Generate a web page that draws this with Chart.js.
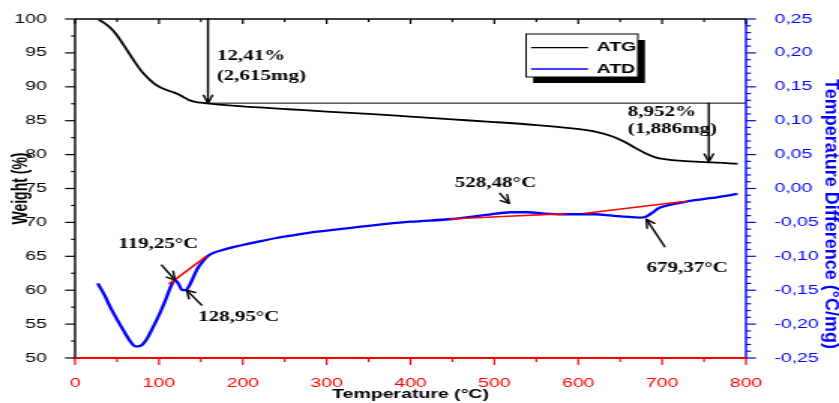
<!DOCTYPE html>
<html><head><meta charset="utf-8">
<script src="https://cdn.jsdelivr.net/npm/chart.js@4/dist/chart.umd.min.js"></script>
<style>html,body{margin:0;padding:0;background:#fff;overflow:hidden}canvas{display:block}</style>
</head><body>
<canvas id="c" width="559" height="403" style="width:839px;height:403px"></canvas>
<script>
// ---------- data ----------
const atgTemp   = [28, 35, 42, 48, 54, 62, 70, 78, 86, 94, 102, 110, 117, 123, 129, 135, 142, 150, 158, 180, 220, 260, 300, 350, 400, 450, 500, 550, 590, 620, 640, 655, 668, 680, 692, 705, 720, 740, 760, 790];
const atgWeight = [99.9, 99.4, 98.7, 97.9, 96.9, 95.4, 93.9, 92.5, 91.4, 90.5, 89.9, 89.5, 89.2, 88.9, 88.5, 88.1, 87.8, 87.65, 87.55, 87.3, 86.95, 86.65, 86.35, 86.0, 85.6, 85.2, 84.8, 84.35, 83.9, 83.4, 82.7, 81.9, 81.0, 80.2, 79.6, 79.3, 79.1, 78.95, 78.85, 78.65];
const atdTemp  = [27, 35, 42, 50, 58, 65, 72, 78, 85, 92, 100, 108, 115, 119, 123, 128, 132, 136, 141, 146, 152, 158, 165, 175, 190, 205, 220, 240, 260, 280, 300, 350, 400, 450, 490, 520, 540, 560, 580, 600, 620, 640, 660, 672, 680, 688, 696, 710, 730, 760, 790];
const atdValue = [-0.140, -0.157, -0.175, -0.193, -0.210, -0.224, -0.233, -0.232, -0.223, -0.207, -0.187, -0.164, -0.142, -0.135, -0.140, -0.150, -0.150, -0.144, -0.131, -0.118, -0.108, -0.100, -0.095, -0.091, -0.086, -0.082, -0.078, -0.073, -0.069, -0.065, -0.062, -0.055, -0.049, -0.045, -0.039, -0.035, -0.035, -0.037, -0.038, -0.038, -0.038, -0.040, -0.042, -0.043, -0.042, -0.036, -0.029, -0.024, -0.019, -0.014, -0.008];
const tangent1Temp = [112, 157],  tangent1Value = [-0.141, -0.0995];
const tangent2Temp = [447, 586],  tangent2Value = [-0.045, -0.037];
const tangent3Temp = [606, 733],  tangent3Value = [-0.037, -0.018];
const seriesLabels = ['ATG', 'ATD'];
const tempTicks   = [0, 100, 200, 300, 400, 500, 600, 700, 800];
const weightTicks = [50, 55, 60, 65, 70, 75, 80, 85, 90, 95, 100];
const dtaTicks    = [-0.25, -0.20, -0.15, -0.10, -0.05, 0, 0.05, 0.10, 0.15, 0.20, 0.25];
const axisTitles  = ['Temperature (°C)', 'Weight (%)', 'Temperature Difference (°C/mg)'];
const lossLabels  = ['12,41%', '(2,615mg)', '8,952%', '(1,886mg)'];
const peakLabels  = ['119,25°C', '128,95°C', '528,48°C', '679,37°C'];
const weightAfterStep1 = 87.59;   // 100 - 12,41
const step1Temp = 158.5, step2Temp = 755.7, weightEnd = 78.95;

// ---------- helpers ----------
const S = 839 / 559; // canvas is displayed stretched horizontally, like the reference
const SANS = "'Liberation Sans', Arial, sans-serif";
const SERIF = "'Liberation Serif', 'Times New Roman', serif";
const pts = (xs, ys) => xs.map((x, i) => ({x, y: ys[i]}));
const fmtComma = v => Math.abs(v) < 1e-9 ? '0,00' : v.toFixed(2).replace('.', ',');

function arrow(ctx, x1, y1, x2, y2) {
  ctx.save();
  ctx.strokeStyle = '#000'; ctx.lineWidth = 1.4; ctx.lineCap = 'round'; ctx.lineJoin = 'round';
  ctx.beginPath(); ctx.moveTo(x1, y1); ctx.lineTo(x2, y2); ctx.stroke();
  const dx = (x2 - x1) * S, dy = y2 - y1, L = Math.hypot(dx, dy), ux = dx / L, uy = dy / L;
  const a = 9, th = 0.52;
  ctx.beginPath();
  for (const sg of [-1, 1]) {
    const c = Math.cos(th), sn = Math.sin(th) * sg;
    const rx = ux * c - uy * sn, ry = ux * sn + uy * c;
    ctx.moveTo(x2 - a * rx / S, y2 - a * ry); ctx.lineTo(x2, y2);
  }
  ctx.stroke(); ctx.restore();
}

const decor = {
  id: 'decor',
  afterDatasetsDraw(chart) {
    const ctx = chart.ctx, x = chart.scales.x, yl = chart.scales.yL, yr = chart.scales.yR;
    const {left, right, top, bottom} = chart.chartArea;
    ctx.save();
    // reference line after first loss
    ctx.strokeStyle = '#000'; ctx.lineWidth = 1;
    ctx.beginPath(); ctx.moveTo(x.getPixelForValue(step1Temp), yl.getPixelForValue(weightAfterStep1));
    ctx.lineTo(right, yl.getPixelForValue(weightAfterStep1)); ctx.stroke();

    // axes lines
    ctx.lineCap = 'butt';
    ctx.strokeStyle = '#000'; ctx.lineWidth = 1.4;
    ctx.beginPath(); ctx.moveTo(left, top); ctx.lineTo(left, bottom); ctx.stroke();
    ctx.lineWidth = 1.3;
    ctx.beginPath(); ctx.moveTo(left, top); ctx.lineTo(right, top); ctx.stroke();
    ctx.strokeStyle = '#0000ff'; ctx.lineWidth = 1.4;
    ctx.beginPath(); ctx.moveTo(right, top); ctx.lineTo(right, bottom + 1); ctx.stroke();
    ctx.strokeStyle = '#ff0000'; ctx.lineWidth = 2;
    ctx.beginPath(); ctx.moveTo(left - 1, bottom); ctx.lineTo(right, bottom); ctx.stroke();

    // ticks
    ctx.lineWidth = 1.2;
    for (let t = 0; t <= 800; t += 50) {
      const p = x.getPixelForValue(t), major = t % 100 === 0;
      ctx.strokeStyle = '#ff0000';
      ctx.beginPath(); ctx.moveTo(p, bottom); ctx.lineTo(p, bottom + (major ? 7 : 4)); ctx.stroke();
      ctx.strokeStyle = '#000';
      ctx.beginPath(); ctx.moveTo(p, top); ctx.lineTo(p, top + (major ? 5 : 3)); ctx.stroke();
    }
    ctx.strokeStyle = '#000'; ctx.lineWidth = 1.2;
    for (let w = 50; w <= 100; w += 2.5) {
      const p = yl.getPixelForValue(w), major = w % 5 === 0;
      ctx.beginPath(); ctx.moveTo(left, p); ctx.lineTo(left - (major ? 10 : 4) / S, p); ctx.stroke();
    }
    ctx.strokeStyle = '#0000ff';
    for (let k = -25; k <= 25; k++) {
      const p = yr.getPixelForValue(k / 100), major = k % 5 === 0;
      ctx.beginPath(); ctx.moveTo(right, p); ctx.lineTo(right + (major ? 10 : 5) / S, p); ctx.stroke();
    }

    // weight-loss arrows and labels
    arrow(ctx, x.getPixelForValue(step1Temp), top, x.getPixelForValue(step1Temp), yl.getPixelForValue(weightAfterStep1));
    arrow(ctx, x.getPixelForValue(step2Temp), yl.getPixelForValue(weightAfterStep1), x.getPixelForValue(step2Temp), yl.getPixelForValue(weightEnd));
    ctx.fillStyle = '#000'; ctx.font = 'bold 14px ' + SERIF; ctx.textAlign = 'left'; ctx.textBaseline = 'alphabetic';
    ctx.fillText(lossLabels[0], x.getPixelForValue(169), yl.getPixelForValue(93.99));
    ctx.fillText(lossLabels[1], x.getPixelForValue(169), yl.getPixelForValue(91.03));
    ctx.fillText(lossLabels[2], x.getPixelForValue(659), yl.getPixelForValue(85.72));
    ctx.fillText(lossLabels[3], x.getPixelForValue(659), yl.getPixelForValue(83.16));

    // peak labels and arrows (DTA axis)
    const peaks = [
      {t: [51.3, -0.0878], a: [103.3, -0.113, 119.2, -0.135]},
      {t: [146.6, -0.195], a: [151, -0.172, 133, -0.150]},
      {t: [452.9, 0.0027], a: [506.6, -0.0071, 517.6, -0.0218]},
      {t: [681.4, -0.1227], a: [703.2, -0.0858, 681.4, -0.0455]}
    ];
    peaks.forEach((pk, i) => {
      ctx.fillText(peakLabels[i], x.getPixelForValue(pk.t[0]), yr.getPixelForValue(pk.t[1]));
      arrow(ctx, x.getPixelForValue(pk.a[0]), yr.getPixelForValue(pk.a[1]), x.getPixelForValue(pk.a[2]), yr.getPixelForValue(pk.a[3]));
    });

    // legend box with shadow
    const bx = 350.5, by = 34, bw = 74.5, bh = 43;
    ctx.fillStyle = '#000'; ctx.fillRect(bx + 4.7, by + 6, bw, bh);
    ctx.fillStyle = '#fff'; ctx.fillRect(bx, by, bw, bh);
    ctx.strokeStyle = '#000'; ctx.lineWidth = 1; ctx.strokeRect(bx, by, bw, bh);
    const ds = chart.data.datasets;
    [[47.7, 0], [69, 1]].forEach(([ly, i]) => {
      ctx.strokeStyle = ds[i].borderColor; ctx.lineWidth = 1.3;
      ctx.beginPath(); ctx.moveTo(353.8, ly); ctx.lineTo(391.8, ly); ctx.stroke();
      ctx.fillStyle = '#000'; ctx.font = 'bold 13px ' + SANS; ctx.textBaseline = 'middle'; ctx.textAlign = 'left';
      ctx.fillText(ds[i].label, 397.5, ly);
    });

    // right axis title (rotated clockwise, glyph height not stretched)
    ctx.save();
    ctx.translate(550.2, 214); ctx.rotate(Math.PI / 2); ctx.scale(1, 1 / S);
    ctx.fillStyle = '#0000ff'; ctx.font = 'bold 18px ' + SANS; ctx.textAlign = 'center'; ctx.textBaseline = 'alphabetic';
    ctx.fillText(axisTitles[2], 0, 0);
    ctx.restore();
    ctx.restore();
  }
};

const lineDs = (label, data, color, axis, width, order) => ({
  label, data, borderColor: color, backgroundColor: color, borderWidth: width,
  pointRadius: 0, yAxisID: axis, cubicInterpolationMode: 'monotone', fill: false, order
});

new Chart(document.getElementById('c'), {
  type: 'line',
  data: {
    datasets: [
      lineDs(seriesLabels[0], pts(atgTemp, atgWeight), '#000000', 'yL', 1.8, 3),
      lineDs(seriesLabels[1], pts(atdTemp, atdValue), '#0000ff', 'yR', 2.3, 2),
      lineDs('t1', pts(tangent1Temp, tangent1Value), '#ff0000', 'yR', 1.6, 1),
      lineDs('t2', pts(tangent2Temp, tangent2Value), '#ff0000', 'yR', 1.6, 1),
      lineDs('t3', pts(tangent3Temp, tangent3Value), '#ff0000', 'yR', 1.6, 1)
    ]
  },
  options: {
    responsive: false, animation: false, devicePixelRatio: 1,
    layout: {padding: {top: 19, left: 0, right: 0, bottom: 0}},
    plugins: {legend: {display: false}, tooltip: {enabled: false}},
    scales: {
      x: {
        type: 'linear', position: 'bottom', min: 0, max: 800,
        afterBuildTicks: s => { s.ticks = tempTicks.map(v => ({value: v})); },
        afterFit: s => { s.height = 45; },
        grid: {display: false}, border: {display: false},
        ticks: {color: '#ff0000', font: {family: SANS, size: 13}, padding: 10, maxRotation: 0, autoSkip: false},
        title: {display: true, text: axisTitles[0], color: '#000', font: {family: SANS, size: 13, weight: 'bold'}, padding: {top: 0, bottom: 1}}
      },
      yL: {
        type: 'linear', position: 'left', min: 50, max: 100,
        afterBuildTicks: s => { s.ticks = weightTicks.map(v => ({value: v})); },
        afterFit: s => { s.width = 50; },
        grid: {display: false}, border: {display: false},
        ticks: {color: '#000', font: {family: SANS, size: 13}, padding: 10.7},
        title: {display: true, text: axisTitles[1], color: '#000', font: {family: SANS, size: 14, weight: 'bold'}, padding: {top: 5.6, bottom: 0}}
      },
      yR: {
        type: 'linear', position: 'right', min: -0.25, max: 0.25,
        afterBuildTicks: s => { s.ticks = dtaTicks.map(v => ({value: v})); },
        afterFit: s => { s.width = 62; },
        grid: {display: false}, border: {display: false},
        ticks: {color: '#0000ff', font: {family: SANS, size: 13}, padding: 10.9, callback: v => fmtComma(v)}
      }
    }
  },
  plugins: [decor]
});
</script>
</body></html>
